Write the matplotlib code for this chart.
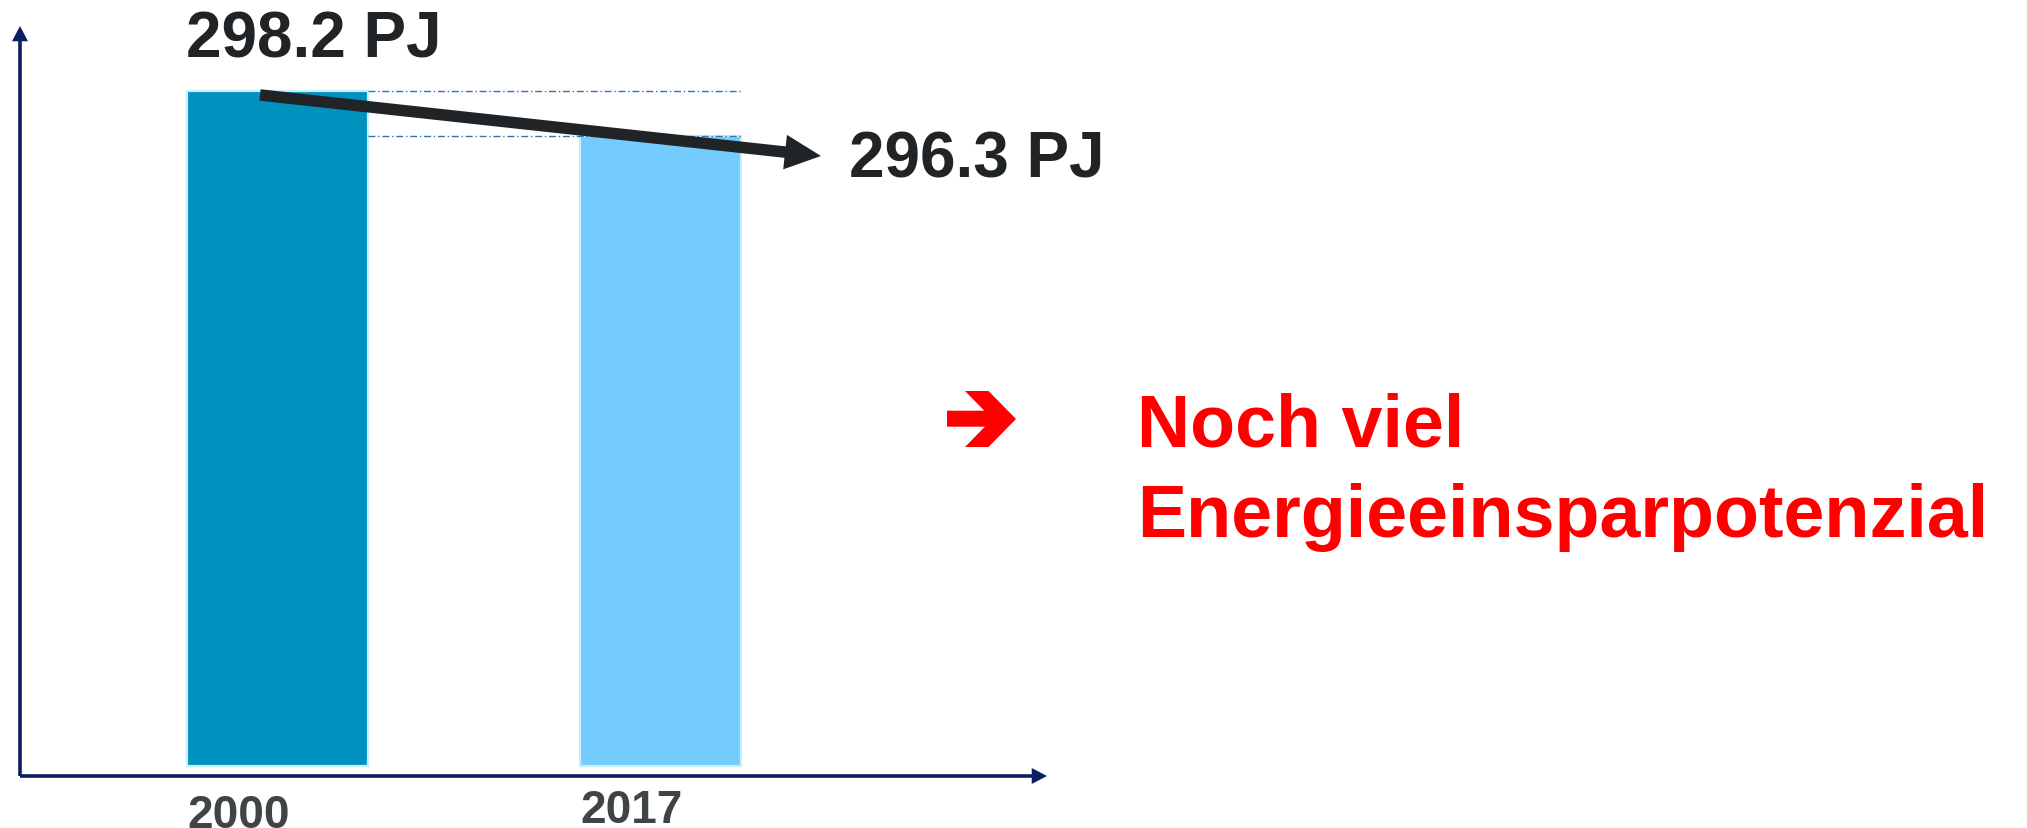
import matplotlib
matplotlib.use("Agg")
import matplotlib.pyplot as plt
from matplotlib.patches import FancyArrowPatch, Polygon, ArrowStyle
from matplotlib.transforms import ScaledTranslation

plt.rcParams['font.family'] = ['Liberation Sans', 'DejaVu Sans']

# ---- data ----
categories = ["2000", "2017"]
values = [298.2, 296.3]          # PJ
unit = "PJ"
message_lines = ["Noch viel", "Energieeinsparpotenzial"]

# ---- colours ----
bar_colors = ["#0092BE", "#74CCFE"]
bar_edge = "#C8EEF9"
axis_color = "#0B1F5E"
dark = "#212426"
tick_color = "#3F4444"
red = "#FF0000"
guide_color = "#2E75B6"

W, H = 2027, 829
DPI = 100
fig = plt.figure(figsize=(W / DPI, H / DPI), dpi=DPI)

def px(x, y):
    """pixel (from top-left) -> figure fraction"""
    return (x / W, 1 - y / H)

# axes: origin at (20, 777) px, x to 1047 px, y to 27 px
ax_l, ax_b, ax_r, ax_t = 20, 777, 1047, 27
ax = fig.add_axes([ax_l / W, 1 - ax_b / H, (ax_r - ax_l) / W, (ax_b - ax_t) / H])
for s in ax.spines.values():
    s.set_visible(False)

unit_px = 383.0
xlim = (-257.5 / unit_px, (ax_r - ax_l - 257.5) / unit_px)
ppv = 45 / (values[0] - values[1])        # pixels per PJ (schematic)
ylim = (values[0] - (ax_b - 92) / ppv, values[0] + (92 - ax_t) / ppv)
base = values[0] - (767 - 92) / ppv
ax.set_xlim(*xlim)
ax.set_ylim(*ylim)

xpos = list(range(len(categories)))
widths = [181 / unit_px, 161 / unit_px]
ax.bar(xpos, [v - base for v in values], bottom=base, width=widths,
       color=bar_colors, edgecolor=bar_edge, linewidth=1.6, zorder=2)

# guide dash-dot lines from bar1 right edge to bar2 right edge
x_from = xpos[0] + widths[0] / 2
x_to = xpos[1] + widths[1] / 2
for v in values:
    ax.plot([x_from, x_to], [v, v], color=guide_color, lw=1.0,
            dashes=(5, 2, 1, 2), zorder=3)

# axis arrows
axis_style = ArrowStyle("Simple", head_length=11, head_width=11.5, tail_width=2.6)
for end in [(0, 1), (1, 0)]:
    a = FancyArrowPatch((0, 0), end, transform=ax.transAxes, arrowstyle=axis_style,
                        mutation_scale=1, color=axis_color, lw=0,
                        shrinkA=0, shrinkB=0, clip_on=False, zorder=4)
    ax.add_patch(a)

# trend arrow from 2000 value to 2017 value
trend_style = ArrowStyle("Simple", head_length=26, head_width=25, tail_width=8.3)
start = (xpos[0] - 0.0457, values[0] - 4 / ppv)
end = (xpos[1] + 0.419, values[1] - 20 / ppv)
tr = FancyArrowPatch(start, end, arrowstyle=trend_style, mutation_scale=1,
                     color=dark, lw=0, shrinkA=0, shrinkB=0, clip_on=False, zorder=5)
ax.add_patch(tr)

# value labels
ax.annotate(f"{values[0]} {unit}", xy=(xpos[0] - widths[0] / 2, values[0]),
            xytext=(-1, 24.5), textcoords="offset points", ha="left", va="baseline",
            fontsize=46, fontweight="bold", color=dark, annotation_clip=False)
ax.annotate(f"{values[1]} {unit}", xy=(xpos[1] + widths[1] / 2, values[1]),
            xytext=(77.5, -29.5), textcoords="offset points", ha="left", va="baseline",
            fontsize=46, fontweight="bold", color=dark, annotation_clip=False)

# tick labels, left aligned to the bar edges
ax.set_xticks([p - w / 2 for p, w in zip(xpos, widths)], labels=categories)
ax.set_yticks([])
ax.tick_params(axis="x", length=0, pad=8.6)
label_drop_px = [5, 0]
for lab, drop in zip(ax.get_xticklabels(), label_drop_px):
    lab.set_ha("left")
    lab.set_fontsize(33)
    lab.set_fontweight("bold")
    lab.set_color(tick_color)
    lab.set_transform(lab.get_transform() +
                      ScaledTranslation(0, -drop / DPI, fig.dpi_scale_trans))

# red arrow symbol
arrow_pts = [(947, 411.7), (984.3, 411.7), (965, 392), (988.5, 392), (1016, 420),
             (988.5, 448), (965, 448), (984.9, 427.7), (947, 427.7)]
fig.patches.append(Polygon([px(x, y) for x, y in arrow_pts], closed=True,
                           transform=fig.transFigure, facecolor=red, edgecolor="none"))

# red message
for i, line in enumerate(message_lines):
    fig.text(*px(1137, 446.7 + 90 * i), line, ha="left", va="baseline",
             fontsize=53, fontweight="bold", color=red)

fig.savefig("out.png", dpi=DPI)
